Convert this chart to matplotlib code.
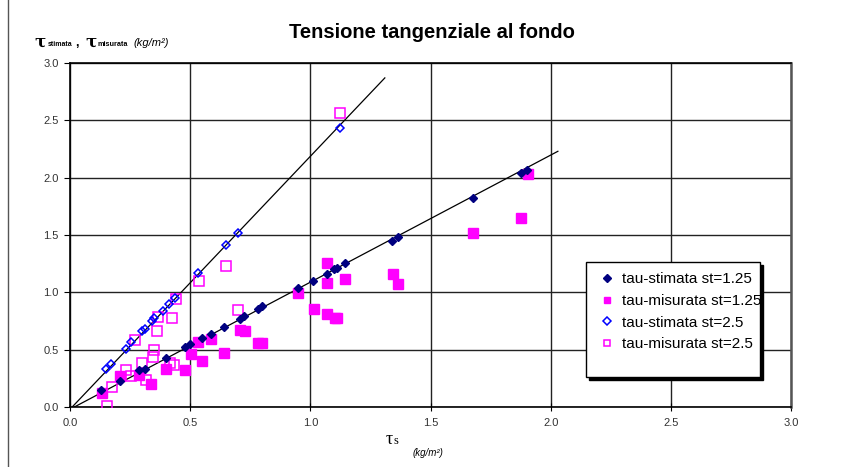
import numpy as np
import matplotlib.pyplot as plt
from matplotlib.patches import Rectangle
from matplotlib.lines import Line2D

plt.rcParams['font.family'] = ['Liberation Sans', 'DejaVu Sans']

# Dati
x_stim_125 = [0.13, 0.21, 0.287, 0.31, 0.40, 0.48, 0.50, 0.548, 0.587, 0.64, 0.707, 0.725,
              0.784, 0.80, 0.95, 1.013, 1.068, 1.10, 1.11, 1.146, 1.34, 1.366, 1.678, 1.875, 1.903]
y_stim_125 = [0.147, 0.23, 0.32, 0.33, 0.43, 0.52, 0.55, 0.60, 0.636, 0.695, 0.767, 0.79,
              0.854, 0.88, 1.035, 1.10, 1.16, 1.20, 1.21, 1.253, 1.45, 1.48, 1.82, 2.04, 2.07]

x_mis_125 = [0.134, 0.208, 0.287, 0.337, 0.40, 0.48, 0.503, 0.534, 0.548, 0.587, 0.64, 0.707,
             0.728, 0.784, 0.80, 0.95, 1.014, 1.068, 1.068, 1.068, 1.103, 1.11, 1.146, 1.343,
             1.366, 1.678, 1.877, 1.905]
y_mis_125 = [0.125, 0.27, 0.28, 0.198, 0.33, 0.32, 0.46, 0.57, 0.40, 0.59, 0.468, 0.67,
             0.66, 0.558, 0.56, 0.99, 0.854, 1.253, 1.08, 0.81, 0.78, 0.78, 1.113, 1.16,
             1.07, 1.514, 1.645, 2.03]

x_stim_25 = [0.149, 0.169, 0.232, 0.253, 0.30, 0.312, 0.34, 0.351, 0.388, 0.413, 0.437,
             0.534, 0.649, 0.698, 1.124]
y_stim_25 = [0.33, 0.375, 0.506, 0.564, 0.665, 0.68, 0.752, 0.773, 0.84, 0.90, 0.948,
             1.17, 1.41, 1.514, 2.43]

x_mis_25 = [0.153, 0.174, 0.232, 0.253, 0.27, 0.30, 0.315, 0.344, 0.351, 0.36, 0.367, 0.416,
            0.426, 0.433, 0.441, 0.537, 0.649, 0.70, 1.124]
y_mis_25 = [0.01, 0.177, 0.32, 0.27, 0.584, 0.38, 0.235, 0.433, 0.497, 0.66, 0.787, 0.38,
            0.773, 0.366, 0.939, 1.098, 1.23, 0.85, 2.56]

# rette di tendenza
retta1_x = [0.0, 1.31]
retta1_y = [-0.02, 2.87]
retta2_x = [0.0, 2.03]
retta2_y = [-0.02, 2.23]

W, H = 843, 467
fig = plt.figure(figsize=(W / 100, H / 100), dpi=100)
ax = fig.add_axes([70 / W, 1 - 407 / H, 721 / W, 344 / H])

ax.plot(retta1_x, retta1_y, color='black', lw=0.9, zorder=2)
ax.plot(retta2_x, retta2_y, color='black', lw=0.9, zorder=2)

ax.plot(x_stim_125, y_stim_125, 'D', color='#000080', ms=4.5, zorder=4,
        label='tau-stimata st=1.25')
ax.plot(x_mis_125, y_mis_125, 's', color='#FF00FF', ms=6.5, zorder=3,
        label='tau-misurata st=1.25')
ax.plot(x_stim_25, y_stim_25, 'D', mfc='none', mec='#0000FF', mew=1.1, ms=4.5, zorder=4,
        label='tau-stimata st=2.5')
ax.plot(x_mis_25, y_mis_25, 's', mfc='none', mec='#FF00FF', mew=1.1, ms=7, zorder=3,
        label='tau-misurata st=2.5')

ax.set_xlim(0, 3)
ax.set_ylim(0, 3)
ax.set_xticks(np.arange(0, 3.01, 0.5))
ax.set_yticks(np.arange(0, 3.01, 0.5))
ax.xaxis.set_major_formatter(plt.FormatStrFormatter('%.1f'))
ax.yaxis.set_major_formatter(plt.FormatStrFormatter('%.1f'))
ax.tick_params(axis='x', direction='inout', length=6, labelsize=8, colors='black',
               labelcolor='#333333', pad=5)
ax.tick_params(axis='y', direction='out', length=4, labelsize=8, colors='black',
               labelcolor='#333333', pad=4)
ax.grid(True, color='#222222', lw=1.0)
ax.set_axisbelow(True)
for sp in ax.spines.values():
    sp.set_color('black')
    sp.set_linewidth(1.2)
ax.spines['right'].set_color('#555555')
ax.spines['right'].set_linewidth(1.8)

# titolo
fig.text(432 / W, 1 - 33 / H, 'Tensione tangenziale al fondo', ha='center', va='center',
         fontsize=14.5, fontweight='bold')

# etichetta asse y
yb = 1 - 46 / H
fig.text(34 / W, yb, 'τ', fontsize=12, fontweight='bold', family='DejaVu Serif', va='baseline')
fig.text(48 / W, yb, 'stimata', fontsize=5, fontweight='bold', va='baseline')
fig.text(75 / W, yb, ',', fontsize=9, fontweight='bold', va='baseline')
fig.text(85 / W, yb, 'τ', fontsize=12, fontweight='bold', family='DejaVu Serif', va='baseline')
fig.text(97 / W, yb, 'misurata', fontsize=5.2, fontweight='bold', va='baseline')
fig.text(133 / W, yb, '(kg/m²)', fontsize=8, style='italic', va='baseline')

# etichetta asse x
fig.text(386 / W, 1 - 444 / H, 'τ', fontsize=13, family='Liberation Serif', va='baseline')
fig.text(394 / W, 1 - 444 / H, 's', fontsize=9, family='Liberation Serif', va='baseline')
fig.text(413 / W, 1 - 456 / H, '(kg/m²)', fontsize=7, style='italic', va='baseline')

# legenda con ombra
ax.add_patch(Rectangle((589 / W, 1 - 380 / H), 174 / W, 115 / H, transform=fig.transFigure,
                       fc='black', ec='black', zorder=8, clip_on=False))
ax.add_patch(Rectangle((586 / W, 1 - 377 / H), 174 / W, 115 / H, transform=fig.transFigure,
                       fc='white', ec='black', lw=1, zorder=9, clip_on=False))
leg = ax.legend(loc='upper left', bbox_to_anchor=(591 / W, 1 - 262 / H),
                bbox_transform=fig.transFigure, frameon=False, fontsize=11,
                labelspacing=0.5, handlelength=0.73, handletextpad=0.59, borderpad=0.18)
leg.set_zorder(10)
for h in leg.legend_handles:
    h.set_markersize(4.5)

# bordo sinistro
fig.add_artist(Line2D([8 / W, 8 / W], [0, 1], transform=fig.transFigure, color='#555555', lw=1))

plt.savefig('out.png', dpi=100)
